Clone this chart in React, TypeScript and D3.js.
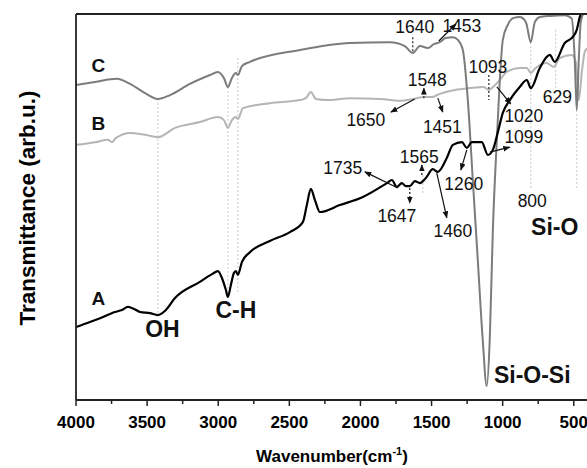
import React from 'react';
import * as d3 from 'd3';

// wavenumber (cm-1) and transmittance (arb.u.)
const wnC = [4000, 3866, 3712, 3620, 3515, 3424, 3339, 3199, 3058, 3002, 2960, 2932, 2904, 2876, 2862, 2833, 2777, 2426, 2074, 1793, 1688, 1632, 1582, 1526, 1484, 1442, 1400, 1350, 1315, 1280, 1245, 1210, 1175, 1140, 1112, 1091, 1069, 1041, 1020, 999, 964, 922, 880, 837, 802, 774, 739, 669, 563, 514, 493, 479, 465, 451, 430, 402];
const tC = [81.6, 82.4, 83.2, 81.9, 79.5, 78.0, 79.0, 81.9, 84.2, 85.0, 83.4, 81.1, 83.4, 84.7, 84.2, 86.5, 87.6, 90.7, 92.5, 92.7, 91.7, 89.9, 91.7, 91.2, 92.2, 92.7, 93.8, 94.0, 93.3, 90.7, 77.7, 57.0, 36.3, 15.5, 3.6, 15.5, 44.0, 67.4, 82.9, 93.3, 97.2, 99.0, 99.2, 97.9, 92.7, 97.9, 99.2, 99.5, 99.7, 98.8, 88.0, 75.1, 88.0, 97.9, 100.3, 101];

const wnB = [4000, 3866, 3775, 3747, 3719, 3620, 3515, 3424, 3304, 3129, 3002, 2960, 2932, 2904, 2876, 2862, 2826, 2637, 2426, 2384, 2349, 2313, 2215, 2074, 1863, 1723, 1625, 1554, 1498, 1442, 1336, 1231, 1133, 1097, 1062, 1020, 971, 880, 830, 802, 774, 690, 641, 598, 514, 486, 465, 444, 423, 402];
const tB = [66.1, 66.8, 67.4, 66.8, 67.9, 69.2, 68.7, 68.1, 70.5, 72.0, 73.3, 72.5, 70.5, 72.5, 73.3, 72.8, 75.6, 76.9, 77.7, 78.2, 79.8, 78.0, 77.7, 78.2, 78.0, 77.5, 78.0, 78.5, 78.5, 79.3, 80.3, 80.8, 81.1, 80.3, 81.3, 82.9, 85.0, 86.0, 86.0, 84.7, 85.8, 87.3, 86.3, 88.6, 89.4, 87.6, 77.7, 84.7, 90.2, 91.2];

const wnA = [4000, 3902, 3831, 3726, 3677, 3635, 3592, 3550, 3480, 3424, 3374, 3304, 3129, 3044, 3002, 2974, 2946, 2932, 2911, 2890, 2876, 2862, 2833, 2777, 2637, 2496, 2405, 2377, 2349, 2320, 2285, 2145, 1983, 1814, 1779, 1744, 1709, 1681, 1653, 1617, 1582, 1540, 1491, 1456, 1393, 1350, 1287, 1252, 1217, 1147, 1104, 1069, 1034, 999, 950, 880, 830, 802, 739, 669, 634, 563, 514, 479, 458, 430, 402];
const tA = [18.9, 20.2, 21.2, 22.8, 23.3, 24.1, 23.6, 22.8, 22.5, 22.0, 23.1, 26.4, 30.6, 32.6, 33.4, 31.6, 28.5, 26.7, 29.8, 32.9, 33.4, 32.4, 35.8, 38.3, 41.2, 43.5, 46.1, 50.5, 54.7, 51.8, 48.7, 50.5, 52.6, 56.2, 57.0, 55.2, 56.2, 55.4, 55.4, 56.7, 56.2, 57.5, 59.8, 59.1, 62.7, 66.1, 66.8, 65.3, 66.8, 66.8, 63.5, 64.8, 69.4, 74.4, 77.7, 81.1, 82.9, 80.8, 86.0, 89.4, 87.6, 92.5, 93.8, 95.9, 99.2, 101.6, 103];

const xTicks = [4000, 3500, 3000, 2500, 2000, 1500, 1000, 500];
const xMinor = [3750, 3250, 2750, 2250, 1750, 1250, 750];

// peak labels: text, wavenumber, transmittance (baseline)
const peakText = ['1640', '1453', '1093', '1548', '1650', '1451', '1020', '629', '1099', '1565', '1735', '1260', '800', '1647', '1460'];
const peakWn = [1618, 1287, 1104, 1530, 1962, 1424, 851, 616, 851, 1586, 2124, 1273, 792, 1744, 1350];
const peakT = [95.1, 95.3, 84.7, 81.3, 71.0, 69.2, 72.0, 76.9, 66.6, 61.4, 58.5, 54.4, 50.0, 46.1, 42.2];

// arrows from the spectrum to the label: [wn0, t0, wn1, t1, dashed]
const arrows: [number, number, number, number, boolean][] = [
  [1449, 93.0, 1329, 97.4, false],
  [1618, 78.0, 1786, 74.6, false],
  [1554, 78.2, 1554, 80.8, true],
  [1456, 78.2, 1421, 74.6, false],
  [1041, 81.1, 943, 76.7, false],
  [1090, 64.2, 950, 65.5, false],
  [1252, 64.8, 1294, 59.6, false],
  [1463, 58.8, 1393, 47.2, false],
  [1737, 54.9, 1969, 59.1, false],
  [1568, 58.3, 1568, 60.9, true],
  [1653, 54.9, 1653, 51.0, true],
];
// black dotted markers without arrowheads
const markers: [number, number, number][] = [
  [1632, 94.0, 89.9],
  [1097, 84.2, 77.7],
];
// light grey guide lines
const guides: [number, number, number][] = [
  [3424, 78.0, 22.0],
  [2932, 81.1, 26.7],
  [2862, 88.6, 28.0],
  [802, 92.7, 54.4],
  [627, 95.9, 80.3],
  [479, 75.1, 54.4],
  [1561, 58.3, 53.1],
];

const bandText = ['C', 'B', 'A', 'OH', 'C-H', 'Si-O-Si', 'Si-O'];
const bandWn = [3842, 3842, 3842, 3392, 2876, 792, 634];
const bandT = [85.0, 69.9, 24.6, 16.3, 21.2, 4.4, 42.7];
const bandSize = [19, 19, 19, 23, 23, 23, 23];

const W = 587, H = 468;
const margin = { top: 14, left: 76, bottom: 68 };

export default function App() {
  const x = d3.scaleLinear().domain([4000, 400]).range([margin.left, 588]);
  const y = d3.scaleLinear().domain([0, 100]).range([H - margin.bottom, margin.top]);
  const line = d3.line<[number, number]>()
    .x(d => x(d[0]))
    .y(d => y(d[1]))
    .curve(d3.curveMonotoneX);
  const path = (wn: number[], t: number[]) => line(wn.map((w, i) => [w, t[i]]) as [number, number][]) || '';
  const y0 = H - margin.bottom;
  const font = '"Liberation Sans", Arial, Helvetica, sans-serif';

  return (
    <svg width={W} height={H} style={{ position: 'absolute', left: 0, top: 0, background: '#fff' }} fontFamily={font}>
      <defs>
        <clipPath id="plot">
          <rect x={margin.left} y={margin.top} width={W - margin.left} height={y0 - margin.top} />
        </clipPath>
        <marker id="head" viewBox="0 0 10 10" refX="9" refY="5" markerWidth="6" markerHeight="6" orient="auto">
          <path d="M0,1 L10,5 L0,9 z" fill="#111" />
        </marker>
      </defs>

      {/* guide lines */}
      {guides.map((g, i) => (
        <line key={'g' + i} x1={x(g[0])} x2={x(g[0])} y1={y(g[1])} y2={y(g[2])}
          stroke="#c8c8c8" strokeWidth={1} strokeDasharray="2,2" />
      ))}

      <g clipPath="url(#plot)" fill="none" strokeLinejoin="round">
        <path d={path(wnB, tB)} stroke="#b5b5b5" strokeWidth={2} />
        <path d={path(wnC, tC)} stroke="#7c7c7c" strokeWidth={2} />
        <path d={path(wnA, tA)} stroke="#000" strokeWidth={2.2} />
      </g>

      {markers.map((m, i) => (
        <line key={'m' + i} x1={x(m[0])} x2={x(m[0])} y1={y(m[1])} y2={y(m[2])}
          stroke="#222" strokeWidth={1.2} strokeDasharray="2,2" />
      ))}
      {arrows.map((a, i) => (
        <line key={'a' + i} x1={x(a[0])} y1={y(a[1])} x2={x(a[2])} y2={y(a[3])}
          stroke="#111" strokeWidth={1.2} strokeDasharray={a[4] ? '2,2' : undefined}
          markerEnd="url(#head)" />
      ))}

      {/* frame */}
      <line x1={margin.left} x2={margin.left} y1={margin.top} y2={y0} stroke="#222" strokeWidth={1.8} />
      <line x1={margin.left} x2={W} y1={margin.top} y2={margin.top} stroke="#222" strokeWidth={1.8} />
      <line x1={margin.left} x2={W} y1={y0} y2={y0} stroke="#222" strokeWidth={1.8} />
      {xTicks.map(t => (
        <g key={t}>
          <line x1={x(t)} x2={x(t)} y1={y0} y2={y0 + 6} stroke="#222" strokeWidth={1.5} />
          <text x={x(t)} y={y0 + 28} textAnchor="middle" fontSize={17} fontWeight="bold">{t}</text>
        </g>
      ))}
      {xMinor.map(t => (
        <line key={t} x1={x(t)} x2={x(t)} y1={y0} y2={y0 + 4} stroke="#222" strokeWidth={1.5} />
      ))}

      <text x={332} y={462} textAnchor="middle" fontSize={17} fontWeight="bold">
        Wavenumber(cm<tspan dy={-7} fontSize={11}>-1</tspan><tspan dy={7}>)</tspan>
      </text>
      <text transform="translate(35,208) rotate(-90)" textAnchor="middle" fontSize={22.5} fontWeight="bold">
        Transmittance (arb.u.)
      </text>

      {peakText.map((s, i) => (
        <text key={'p' + i} x={x(peakWn[i])} y={y(peakT[i])} textAnchor="middle" fontSize={17.5} fill="#111">{s}</text>
      ))}
      {bandText.map((s, i) => (
        <text key={'b' + i} x={x(bandWn[i])} y={y(bandT[i])} textAnchor="middle" fontSize={bandSize[i]} fontWeight="bold" fill="#111">{s}</text>
      ))}
    </svg>
  );
}
